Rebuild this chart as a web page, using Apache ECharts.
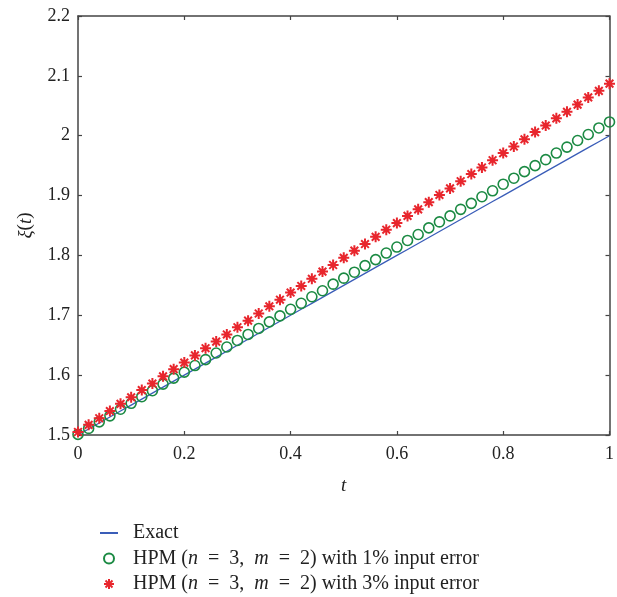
<!DOCTYPE html>
<html>
<head>
<meta charset="utf-8">
<script src="https://cdn.jsdelivr.net/npm/echarts@6/dist/echarts.min.js"></script>
<style>
  html, body { margin: 0; padding: 0; background: #fff; }
  #main { width: 617px; height: 597px; }
</style>
</head>
<body>
<div id="main"></div>
<script>
// t values, step 0.02
var tValues = [0, 0.02, 0.04, 0.06, 0.08, 0.1, 0.12, 0.14, 0.16, 0.18,
  0.2, 0.22, 0.24, 0.26, 0.28, 0.3, 0.32, 0.34, 0.36, 0.38,
  0.4, 0.42, 0.44, 0.46, 0.48, 0.5, 0.52, 0.54, 0.56, 0.58,
  0.6, 0.62, 0.64, 0.66, 0.68, 0.7, 0.72, 0.74, 0.76, 0.78,
  0.8, 0.82, 0.84, 0.86, 0.88, 0.9, 0.92, 0.94, 0.96, 0.98, 1];

var exactValues = [1.5, 1.51, 1.52, 1.53, 1.54, 1.55, 1.56, 1.57, 1.58, 1.59,
  1.6, 1.61, 1.62, 1.63, 1.64, 1.65, 1.66, 1.67, 1.68, 1.69,
  1.7, 1.71, 1.72, 1.73, 1.74, 1.75, 1.76, 1.77, 1.78, 1.79,
  1.8, 1.81, 1.82, 1.83, 1.84, 1.85, 1.86, 1.87, 1.88, 1.89,
  1.9, 1.91, 1.92, 1.93, 1.94, 1.95, 1.96, 1.97, 1.98, 1.99, 2.0];

// HPM with 1% input error (circles)
var hpm1Values = [1.501, 1.511, 1.522, 1.532, 1.543, 1.553, 1.564, 1.574, 1.585, 1.595,
  1.605, 1.616, 1.626, 1.637, 1.647, 1.658, 1.668, 1.678, 1.689, 1.699,
  1.710, 1.720, 1.731, 1.741, 1.752, 1.762, 1.772, 1.783, 1.793, 1.804,
  1.814, 1.825, 1.835, 1.846, 1.856, 1.866, 1.877, 1.887, 1.898, 1.908,
  1.919, 1.929, 1.940, 1.950, 1.960, 1.971, 1.981, 1.992, 2.002, 2.013, 2.023];

// HPM with 3% input error (stars)
var hpm3Values = [1.505, 1.517, 1.528, 1.540, 1.552, 1.563, 1.575, 1.586, 1.598, 1.610,
  1.621, 1.633, 1.645, 1.656, 1.668, 1.680, 1.691, 1.703, 1.715, 1.726,
  1.738, 1.749, 1.761, 1.773, 1.784, 1.796, 1.808, 1.819, 1.831, 1.843,
  1.854, 1.866, 1.877, 1.889, 1.901, 1.912, 1.924, 1.936, 1.947, 1.959,
  1.971, 1.982, 1.994, 2.006, 2.017, 2.029, 2.040, 2.052, 2.064, 2.075, 2.087];

function pairs(xs, ys) {
  return xs.map(function (x, i) { return [x, ys[i]]; });
}

var FONT = 'Liberation Serif';
var AXIS_COLOR = '#444';
var STAR = 'path://M0,-10L0,10M-10,0L10,0M-7,-7L7,7M-7,7L7,-7';
var SP = '\u2002'; // en space, for the wider math spacing

var chart = echarts.init(document.getElementById('main'));

var baseAxis = {
  axisLine: { show: true, onZero: false, lineStyle: { color: AXIS_COLOR, width: 1.5 } },
  axisTick: { show: true, inside: true, length: 4, lineStyle: { color: AXIS_COLOR, width: 1.2 } },
  splitLine: { show: false }
};

var option = {
  backgroundColor: '#ffffff',
  animation: false,
  grid: { left: 78, right: 5, top: 16, bottom: 162 },
  legend: {
    orient: 'vertical',
    left: 94,
    top: 518,
    height: 120,
    itemWidth: 18,
    itemHeight: 10,
    itemGap: 5.5,
    data: [
      { name: 'Exact', itemStyle: { opacity: 0 } },
      { name: 'HPM1' },
      { name: 'HPM3' }
    ],
    formatter: function (name) {
      if (name === 'Exact') return '{a|Exact}';
      var pct = name === 'HPM1' ? '1%' : '3%';
      return '{a|HPM (}{i|n}{a|' + SP + '=' + SP + '3,' + SP + '}{i|m}{a|' + SP + '=' + SP +
        '2) with ' + pct + ' input error}';
    },
    textStyle: {
      padding: [0, 0, 0, 10],
      rich: {
        a: { fontFamily: FONT, fontSize: 20, color: '#222', lineHeight: 20 },
        i: { fontFamily: FONT, fontSize: 20, fontStyle: 'italic', color: '#222', lineHeight: 20 }
      }
    }
  },
  xAxis: [
    Object.assign({}, baseAxis, {
      type: 'value', min: 0, max: 1, interval: 0.2, position: 'bottom',
      name: 't', nameLocation: 'middle', nameGap: 41,
      nameTextStyle: { fontFamily: FONT, fontSize: 19, fontStyle: 'italic', color: '#222' },
      axisLabel: { fontFamily: FONT, fontSize: 18, color: '#222', margin: 10 }
    }),
    Object.assign({}, baseAxis, {
      type: 'value', min: 0, max: 1, interval: 0.2, position: 'top',
      axisLabel: { show: false }
    })
  ],
  yAxis: [
    Object.assign({}, baseAxis, {
      type: 'value', min: 1.5, max: 2.2, interval: 0.1, position: 'left',
      name: '{i|ξ}{r|(}{i|t}{r|)}', nameLocation: 'middle', nameGap: 43, nameRotate: 90,
      nameTextStyle: {
        rich: {
          i: { fontFamily: FONT, fontSize: 19, fontStyle: 'italic', color: '#222' },
          r: { fontFamily: FONT, fontSize: 19, color: '#222' }
        }
      },
      axisLabel: {
        fontFamily: FONT, fontSize: 18, color: '#222', margin: 8,
        formatter: function (v) { return String(Math.round(v * 10) / 10); }
      }
    }),
    Object.assign({}, baseAxis, {
      type: 'value', min: 1.5, max: 2.2, interval: 0.1, position: 'right',
      axisLabel: { show: false }
    })
  ],
  series: [
    {
      name: 'Exact',
      type: 'line',
      data: pairs(tValues, exactValues),
      showSymbol: false,
      symbol: 'none',
      lineStyle: { color: '#3a5db8', width: 1.3 },
      itemStyle: { color: '#3a5db8' },
      z: 2
    },
    {
      name: 'HPM1',
      type: 'scatter',
      data: pairs(tValues, hpm1Values),
      symbol: 'circle',
      symbolSize: 10,
      itemStyle: { color: 'rgba(0,0,0,0)', borderColor: '#1b8a43', borderWidth: 1.6, opacity: 1 },
      z: 3
    },
    {
      name: 'HPM3',
      type: 'scatter',
      data: pairs(tValues, hpm3Values),
      symbol: STAR,
      symbolSize: 11,
      itemStyle: { color: '#e8262d', borderColor: '#e8262d', borderWidth: 2, opacity: 1 },
      z: 4
    }
  ]
};

chart.setOption(option);
</script>
</body>
</html>
